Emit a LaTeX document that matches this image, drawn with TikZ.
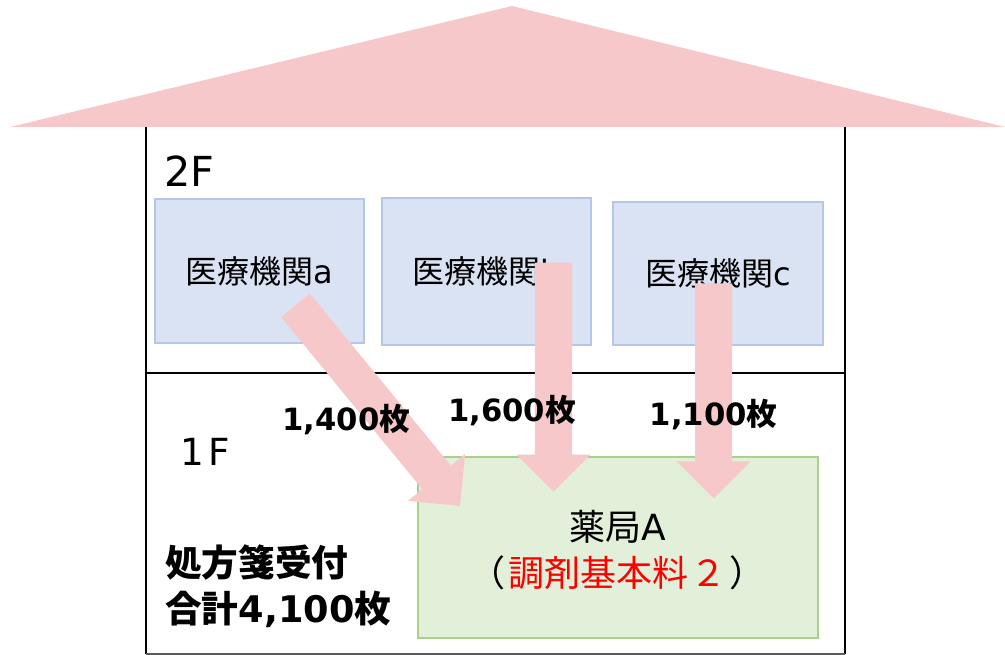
\documentclass[tikz,border=0pt]{standalone}
\usepackage{fontspec}
\setmainfont{Noto Sans CJK JP}
\newfontfamily\lat{DejaVu Sans}
\usetikzlibrary{calc}
\definecolor{roofpink}{RGB}{247,200,202}
\definecolor{boxblue}{RGB}{218,227,243}
\definecolor{boxblueline}{RGB}{180,199,231}
\definecolor{boxgreen}{RGB}{226,240,217}
\definecolor{boxgreenline}{RGB}{169,209,142}
\definecolor{bottomgray}{RGB}{90,90,90}
\newcommand\blockarrow[2]{%
  \path ($(#2)!27.75pt!(#1)$) coordinate (hb);
  \fill[roofpink] ($(#1)!13.9pt!90:(#2)$) -- ($(hb)!13.9pt!90:(#2)$)
    -- ($(hb)!27.75pt!90:(#2)$) -- (#2) -- ($(hb)!27.75pt!-90:(#2)$)
    -- ($(hb)!13.9pt!-90:(#2)$) -- ($(#1)!13.9pt!-90:(#2)$) -- cycle;}
\begin{document}
\begin{tikzpicture}[x=0.75pt,y=-0.75pt,
  wall/.style={draw=black,line width=1.4pt},
  clinic/.style={draw=boxblueline,fill=boxblue,line width=1.5pt,inner sep=0,
    minimum width=156.75pt,font=\fontsize{24}{28}\selectfont},
  pharm/.style={draw=boxgreenline,fill=boxgreen,line width=1.5pt,inner sep=0},
  floorlbl/.style={inner sep=0,anchor=base west,font=\lat},
  count/.style={inner sep=0,font=\fontsize{23}{28}\selectfont\bfseries},
  total/.style={inner sep=0,anchor=west,font=\fontsize{27.5}{32}\selectfont\bfseries},
  pharmtxt/.style={inner sep=0,font=\fontsize{27}{31}\selectfont}]
\useasboundingbox (0,0) rectangle (1005,655);
% roof
\fill[roofpink] (10,127) -- (512,6) -- (1005,127) -- cycle;
% house
\draw[wall] (146,127) -- (146,654);
\draw[wall] (845,127) -- (845,654);
\draw[wall] (146,373) -- (845,373);
\draw[bottomgray,line width=1.5pt] (146,654) -- (845,654);
% floor labels
\node[floorlbl,font=\lat\fontsize{31}{34}\selectfont] (f2) at (164,186.5) {2F};
\node[floorlbl,font=\lat\fontsize{28}{32}\selectfont] (f1) at (180,465) {1\kern3pt F};
% clinics
\node[clinic,minimum height=108.5pt] (ca) at (259.5,271) {医療機関{\lat a}};
\node[clinic,minimum height=110pt] (cb) at (486.2,271.7) {医療機関{\lat b}};
\node[clinic,minimum width=157.5pt,minimum height=107.5pt] (cc) at (718.3,273.4) {医療機関{\lat c}};
% pharmacy
\node[pharm,minimum width=299.8pt,minimum height=135.75pt] (ph) at (618.2,547.2) {};
\node[pharmtxt] (ph1) at (618,527) {薬局{\lat A}};
\node[pharmtxt] (ph2) at (617.5,573) {（\kern2pt\textcolor{red}{調剤基本料\kern2pt２}\kern2pt）};
% arrows
\coordinate (ta) at (295.5,305.3); \coordinate (ea) at (460,506);
\coordinate (tb) at (553.5,262.7); \coordinate (eb) at (553.5,491.7);
\coordinate (tc) at (713.7,283.3); \coordinate (ec) at (713.7,498.3);
\blockarrow{ta}{ea}
\blockarrow{tb}{eb}
\blockarrow{tc}{ec}
% counts
\node[count] (na) at (346.3,420) {{\lat 1,400}枚};
\node[count] (nb) at (512,411) {{\lat 1,600}枚};
\node[count] (nc) at (713.7,415) {{\lat 1,100}枚};
% total
\node[total] (t1) at (165,563) {処方箋受付};
\node[total] (t2) at (165,609) {合計{\lat 4,100}枚};
\end{tikzpicture}
\end{document}
